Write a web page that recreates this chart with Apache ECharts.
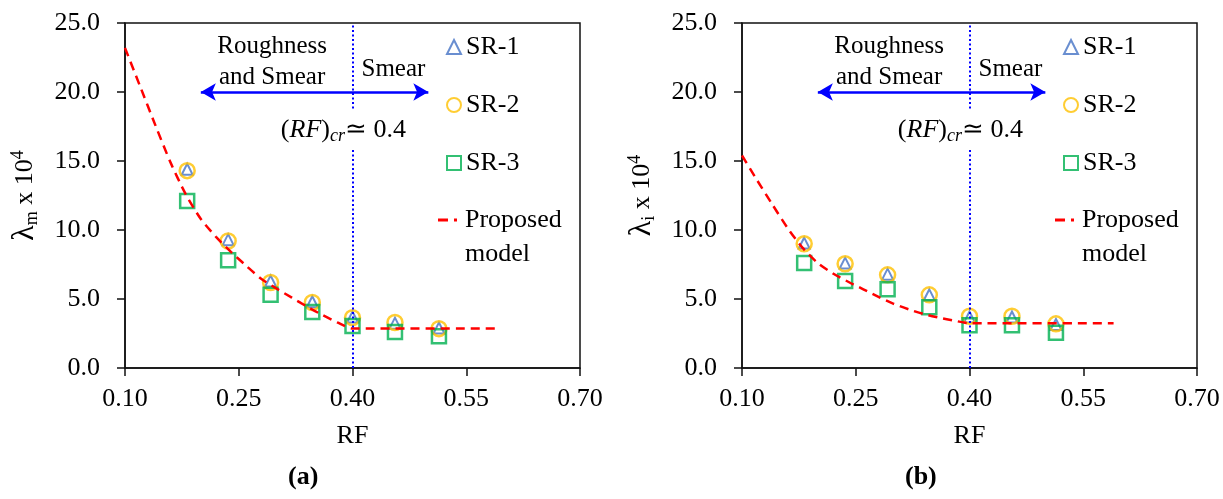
<!DOCTYPE html>
<html>
<head>
<meta charset="utf-8">
<script src="https://cdn.jsdelivr.net/npm/echarts@6/dist/echarts.min.js"></script>
<style>
  html, body { margin: 0; padding: 0; background: #fff; }
  #main { width: 1223px; height: 499px; }
</style>
</head>
<body>
<div id="main"></div>
<script>
// Roughness factor of each test point (shared by both panels)
const rf = [0.182, 0.236, 0.292, 0.347, 0.400, 0.456, 0.514];

// (a) lambda_m x 10^4
const sr1M = [14.4, 9.3, 6.3, 4.8, 3.7, 3.25, 2.9];
const sr2M = [14.3, 9.2, 6.2, 4.75, 3.65, 3.3, 2.85];
const sr3M = [12.1, 7.8, 5.3, 4.05, 3.05, 2.6, 2.3];
const modelRfM = [0.10, 0.12, 0.14, 0.16, 0.18, 0.20, 0.22, 0.24, 0.26, 0.28, 0.30, 0.32, 0.34, 0.36, 0.38, 0.40, 0.42, 0.595];
const modelM   = [23.2, 20.4, 17.6, 14.9, 12.6, 10.8, 9.5, 8.4, 7.4, 6.45, 5.75, 5.1, 4.45, 3.85, 3.3, 2.87, 2.87, 2.87];

// (b) lambda_i x 10^4
const sr1I = [9.05, 7.6, 6.8, 5.3, 3.7, 3.7, 3.15];
const sr2I = [9.0, 7.55, 6.75, 5.3, 3.75, 3.75, 3.2];
const sr3I = [7.6, 6.3, 5.7, 4.4, 3.1, 3.1, 2.55];
const modelRfI = [0.10, 0.12, 0.14, 0.16, 0.18, 0.20, 0.22, 0.24, 0.26, 0.28, 0.30, 0.32, 0.34, 0.36, 0.38, 0.40, 0.42, 0.59];
const modelI   = [15.4, 13.6, 11.85, 10.15, 8.7, 7.6, 6.85, 6.25, 5.7, 5.15, 4.65, 4.25, 3.9, 3.65, 3.43, 3.25, 3.25, 3.25];

// Axis ticks
const xTicks = [0.10, 0.25, 0.40, 0.55, 0.70];
const yTicks = [0, 5, 10, 15, 20, 25];

// Critical roughness factor, regime arrow and the break left for its label
const rfCritical = 0.40;
const arrowSpan = [0.20, 0.50];
const arrowLevel = 20;
const labelBreak = [15.9, 18.8];

const FONT = "'Liberation Serif', 'Times New Roman', serif";
const INK = '#000000';
const BLUE_LINE = '#0000ff';

const zip = (xs, ys) => xs.map((x, i) => [x, ys[i]]);

// Legend glyph of the dashed model line: one dash and one dot
const dashIcon = 'path://M0,0L0.01,0L0.01,0.01Z M22,14L22.01,14L22.01,13.99Z M0,5.5L10,5.5L10,8.5L0,8.5Z M16,5.5L19,5.5L19,8.5L16,8.5Z';

// Text notes placed in data coordinates of each panel
const notes = [
  { at: [0.294, 22.2], text: 'Roughness\nand Smear' },
  { at: [0.454, 21.6], text: 'Smear' },
  { at: [0.388, 17.25], text: '{n|(}{i|RF}{n|)}{c|cr}{n|≃ 0.4}' }
];

const panels = [
  { left: 125, sub: 'm', sr: [sr1M, sr2M, sr3M], mx: modelRfM, my: modelM },
  { left: 742, sub: 'i', sr: [sr1I, sr2I, sr3I], mx: modelRfI, my: modelI }
];

const grids = [], xAxes = [], yAxes = [], series = [], legends = [], graphics = [];

panels.forEach((p, k) => {
  grids.push({
    left: p.left, top: 23, width: 455, height: 345,
    show: true, borderColor: '#111', borderWidth: 1.5, backgroundColor: 'transparent'
  });
  xAxes.push({
    type: 'value', gridIndex: k, min: xTicks[0], max: xTicks[xTicks.length - 1],
    name: 'RF', nameLocation: 'middle', nameGap: 55,
    nameTextStyle: { fontFamily: FONT, fontSize: 26, color: INK },
    axisLine: { show: true, lineStyle: { color: '#111', width: 1.5 } },
    axisTick: { show: true, inside: false, length: 8, customValues: xTicks, lineStyle: { color: '#111', width: 1.5 } },
    axisLabel: { customValues: xTicks, margin: 18, fontFamily: FONT, fontSize: 26, color: INK,
                 formatter: v => v.toFixed(2) },
    splitLine: { show: false }
  });
  yAxes.push({
    type: 'value', gridIndex: k, min: yTicks[0], max: yTicks[yTicks.length - 1], interval: 5,
    name: '{l|λ}{s|' + p.sub + '}{g| x 10}{p|4}', nameLocation: 'middle', nameGap: 84,
    nameTextStyle: {
      fontFamily: FONT, fontSize: 26, color: INK,
      rich: {
        l: { fontFamily: FONT, fontSize: 32, color: INK, lineHeight: 32 },
        g: { fontFamily: FONT, fontSize: 26, color: INK, lineHeight: 32 },
        s: { fontFamily: FONT, fontSize: 18, color: INK, verticalAlign: 'bottom', lineHeight: 16 },
        p: { fontFamily: FONT, fontSize: 18, color: INK, verticalAlign: 'top', lineHeight: 16 }
      }
    },
    axisLine: { show: true, lineStyle: { color: '#111', width: 1.5 } },
    axisTick: { show: true, inside: false, length: 8, lineStyle: { color: '#111', width: 1.5 } },
    axisLabel: { margin: 25, fontFamily: FONT, fontSize: 26, color: INK, formatter: v => v.toFixed(1) },
    splitLine: { show: false }
  });

  const common = { type: 'scatter', xAxisIndex: k, yAxisIndex: k, silent: true };
  const dotted = { color: BLUE_LINE, width: 2, type: [2, 2.5] };
  series.push(
    Object.assign({}, common, {
      name: 'SR-1', symbol: 'triangle', symbolSize: 11, z: 3,
      itemStyle: { color: 'rgba(255,255,255,0)', borderColor: '#4472c4', borderWidth: 2 },
      data: zip(rf, p.sr[0])
    }),
    Object.assign({}, common, {
      name: 'SR-2', symbol: 'circle', symbolSize: 15, z: 3,
      itemStyle: { color: 'rgba(255,255,255,0)', borderColor: '#ffc000', borderWidth: 2.5 },
      data: zip(rf, p.sr[1])
    }),
    Object.assign({}, common, {
      name: 'SR-3', symbol: 'rect', symbolSize: 14, z: 3,
      itemStyle: { color: 'rgba(255,255,255,0)', borderColor: '#00b050', borderWidth: 2.5 },
      data: zip(rf, p.sr[2])
    }),
    {
      name: 'Proposed', type: 'line', xAxisIndex: k, yAxisIndex: k, silent: true, z: 4,
      symbol: 'none', showSymbol: false, smooth: 0.25,
      lineStyle: { color: '#ff0000', width: 2.5, type: [9, 6] },
      itemStyle: { color: '#ff0000' },
      data: zip(p.mx, p.my),
      markLine: {
        silent: true, animation: false, symbol: 'none', label: { show: false },
        emphasis: { disabled: true },
        data: [
          [{ coord: [rfCritical, yTicks[0]], symbol: 'none', lineStyle: dotted },
           { coord: [rfCritical, labelBreak[0]], symbol: 'none' }],
          [{ coord: [rfCritical, labelBreak[1]], symbol: 'none', lineStyle: dotted },
           { coord: [rfCritical, yTicks[yTicks.length - 1]], symbol: 'none' }],
          [{ coord: [arrowSpan[0], arrowLevel], symbol: 'arrow', symbolSize: [13, 15],
             lineStyle: { color: BLUE_LINE, width: 2.5, type: 'solid' } },
           { coord: [arrowSpan[1], arrowLevel], symbol: 'arrow', symbolSize: [13, 15] }]
        ]
      }
    }
  );

  const lx = p.left + 316;
  legends.push({
    orient: 'vertical', left: lx, top: 28, itemWidth: 14, itemHeight: 14, itemGap: 30,
    selectedMode: false, data: ['SR-1', 'SR-2', 'SR-3'],
    textStyle: { fontFamily: FONT, fontSize: 26, color: INK, lineHeight: 28 }
  });
  legends.push({
    orient: 'vertical', left: lx - 8, top: 201, itemWidth: 22, itemHeight: 14, itemGap: 10,
    selectedMode: false,
    data: [{ name: 'Proposed', icon: dashIcon, itemStyle: { color: '#ff0000', borderWidth: 0 } }],
    textStyle: { fontFamily: FONT, fontSize: 26, color: INK, lineHeight: 28 }
  });
  graphics.push({
    type: 'text', left: lx + 24, top: 241, silent: true,
    style: { text: 'model', font: '26px ' + FONT, fill: INK }
  });
  graphics.push({
    type: 'text', left: p.left + 163, top: 464, silent: true,
    style: { text: k === 0 ? '(a)' : '(b)', font: 'bold 26px ' + FONT, fill: INK }
  });
});

const chart = echarts.init(document.getElementById('main'), null, { renderer: 'canvas' });
chart.setOption({
  animation: false,
  backgroundColor: '#fff',
  grid: grids,
  xAxis: xAxes,
  yAxis: yAxes,
  legend: legends,
  graphic: graphics,
  series: series
});

// Notes are laid out through each panel's own axes
const noteGraphics = [];
panels.forEach((p, k) => {
  notes.forEach(n => {
    const pt = chart.convertToPixel({ gridIndex: k }, n.at);
    noteGraphics.push({
      type: 'text', x: pt[0], y: pt[1], z: 50, silent: true,
      style: {
        text: n.text, fill: INK, font: '25px ' + FONT, lineHeight: 31,
        align: 'center', verticalAlign: 'middle',
        rich: {
          n: { fontFamily: FONT, fontSize: 26, fill: INK, lineHeight: 30 },
          i: { fontFamily: FONT, fontSize: 26, fill: INK, fontStyle: 'italic', lineHeight: 30 },
          c: { fontFamily: FONT, fontSize: 18, fill: INK, fontStyle: 'italic', verticalAlign: 'bottom', lineHeight: 18 }
        }
      }
    });
  });
});
chart.setOption({ graphic: graphics.concat(noteGraphics) });
</script>
</body>
</html>
